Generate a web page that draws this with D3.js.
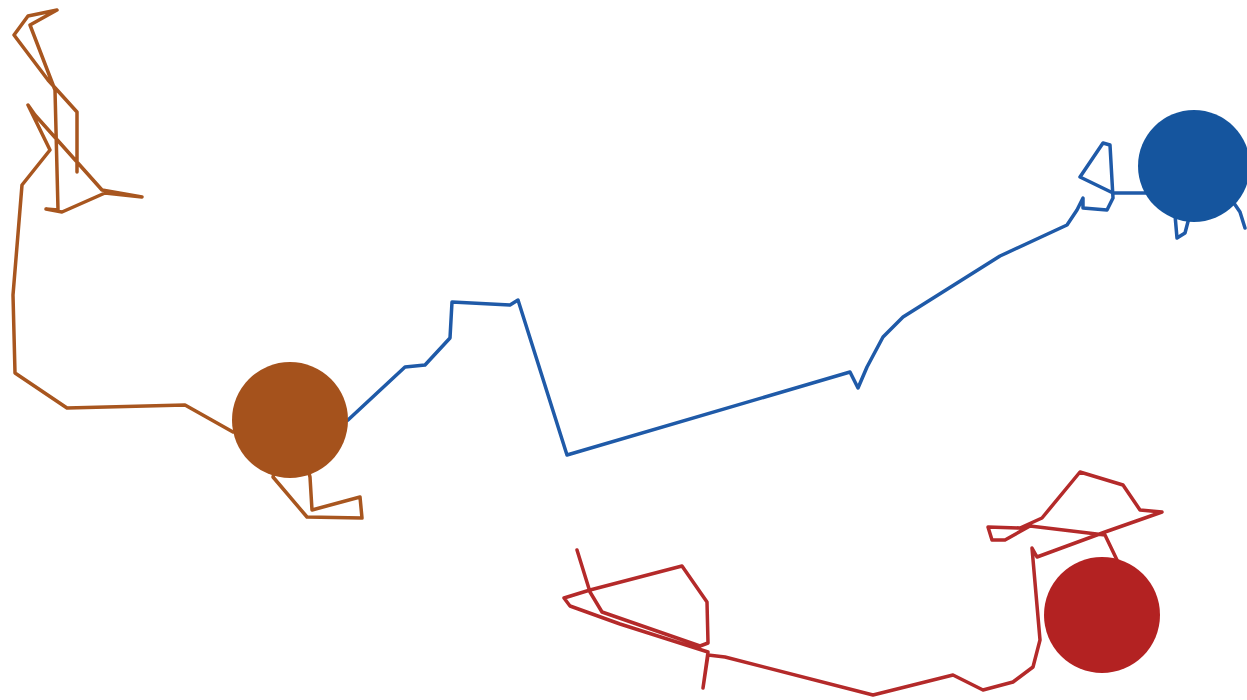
<!DOCTYPE html>
<html><head><meta charset="utf-8">
<script src="https://cdn.jsdelivr.net/npm/d3@7"></script>
<style>html,body{margin:0;padding:0;background:#fff;}svg{display:block;}</style>
</head><body>
<svg id="chart" width="1247" height="700"></svg>
<script>
// Trajectory segments (x, y in chart units)
const orangeX = [300,310,312,360,362,307,273,290,233,185,67,15,13,22,50,28,35,102,142,105,62,46,58,55,30,57,28,14,48,77,77];
const orangeY = [440,477,510,497,518,517,477,420,432,405,408,373,295,185,150,105,115,190,197,193,212,209,210,90,25,10,16,35,80,112,172];

const blueX = [320,348,405,425,450,452,510,518,567,850,858,867,883,903,1000,1067,1077,1083,1083,1107,1113,1110,1103,1080,1113,1150,1195,1175,1177,1185,1195,1225,1240,1245];
const blueY = [430,420,367,365,338,302,305,300,455,372,388,367,337,317,256,225,210,198,208,210,198,145,143,177,193,193,170,215,238,233,195,190,212,228];

const redX = [577,590,602,700,708,707,682,590,564,570,620,708,703,708,725,873,953,983,1013,1033,1040,1032,1037,1105,1162,1140,1123,1080,1042,1020,988,992,1005,1030,1105,1117,1102];
const redY = [550,592,612,646,643,602,566,590,598,606,624,652,688,655,657,695,675,690,682,667,640,548,557,532,512,510,485,472,518,528,527,540,540,526,535,560,615];

const seriesNames = ["orange","blue","red"];
const lineColors = ["#a8561f","#1f5aa8","#b42a2a"];
const dotColors = ["#a5521c","#15559e","#b32222"];
const dotX = [290,1194,1102];
const dotY = [420,166,615];
const dotR = [58,56,58];

const W = 1247, H = 700;
const x = d3.scaleLinear().domain([0, 1247]).range([0, W]);
const y = d3.scaleLinear().domain([0, 700]).range([0, H]);
const r = d3.scaleLinear().domain([0, 1247]).range([0, W]);

const svg = d3.select("#chart");
const series = [
  orangeX.map((v,i)=>[v, orangeY[i]]),
  blueX.map((v,i)=>[v, blueY[i]]),
  redX.map((v,i)=>[v, redY[i]])
];
const line = d3.line().x(d=>x(d[0])).y(d=>y(d[1]));

svg.selectAll("path.traj").data(series).join("path")
  .attr("class","traj")
  .attr("d", line)
  .attr("fill","none")
  .attr("stroke",(d,i)=>lineColors[i])
  .attr("stroke-width",3.5)
  .attr("stroke-linejoin","round")
  .attr("stroke-linecap","round");

svg.selectAll("circle.dot").data(seriesNames).join("circle")
  .attr("class","dot")
  .attr("cx",(d,i)=>x(dotX[i]))
  .attr("cy",(d,i)=>y(dotY[i]))
  .attr("r",(d,i)=>r(dotR[i]))
  .attr("fill",(d,i)=>dotColors[i]);
</script>
</body></html>
